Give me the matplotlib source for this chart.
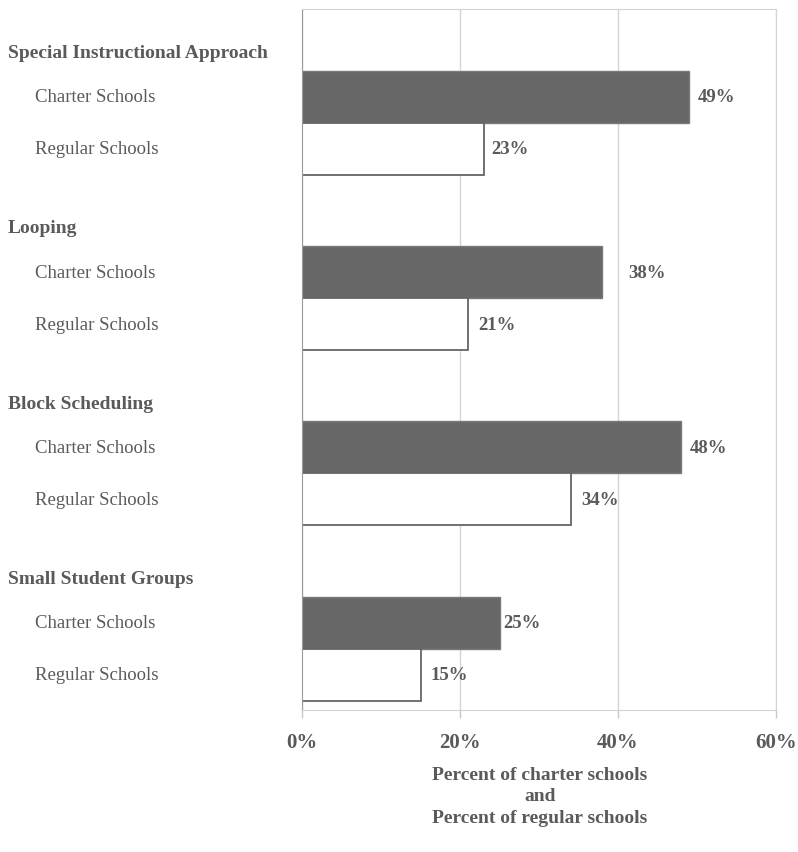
import matplotlib.pyplot as plt
from matplotlib.transforms import blended_transform_factory

# Survey results: share of schools using each practice
practices = ["Special Instructional Approach", "Looping", "Block Scheduling", "Small Student Groups"]
charter = [49, 38, 48, 25]
regular = [23, 21, 34, 15]
series_names = ["Charter Schools", "Regular Schools"]
xticks = [0, 20, 40, 60]

txt = "#5a5a5a"
plt.rcParams["font.family"] = ["Liberation Serif", "DejaVu Serif"]

fig = plt.figure(figsize=(7.98, 8.53), dpi=100)
ax = fig.add_axes([302 / 798, 1 - 711 / 853, 474 / 798, 701 / 853])

gap = 3.37  # distance between groups, in bar heights
ypos_c = [i * gap for i in range(len(practices))]
ypos_r = [y + 1 for y in ypos_c]

ax.barh(ypos_c, charter, height=1, color="#676767", edgecolor="#7a7a7a", linewidth=1)
ax.barh(ypos_r, regular, height=1, color="white", edgecolor="#666666", linewidth=1.3)

# value labels next to the bar ends
pad_c = [1.1, 3.3, 1.1, 0.5]
pad_r = [0.9, 1.3, 1.4, 1.3]
for y, v, p in zip(ypos_c, charter, pad_c):
    ax.text(v + p, y, f"{v}%", va="center", ha="left", fontsize=13.5,
            fontweight="bold", color=txt)
for y, v, p in zip(ypos_r, regular, pad_r):
    ax.text(v + p, y, f"{v}%", va="center", ha="left", fontsize=13.5,
            fontweight="bold", color=txt)

ax.set_xlim(0, 60)
ax.set_ylim(ypos_r[-1] + 0.68, ypos_c[0] - 1.69)
ax.set_xticks(xticks)
ax.set_xticklabels([f"{t}%" for t in xticks], fontsize=15, fontweight="bold", color=txt)
ax.set_yticks([])
ax.tick_params(axis="x", length=6, width=1, color="#c8c8c8", pad=10)
ax.grid(axis="x", color="#d4d4d4", linewidth=1)
ax.set_axisbelow(True)
for s in ["top", "right", "bottom"]:
    ax.spines[s].set_color("#d4d4d4")
ax.spines["left"].set_color("#9a9a9a")

# category headers and row names on the left
tr = blended_transform_factory(fig.transFigure, ax.transData)
for name, yc, yr in zip(practices, ypos_c, ypos_r):
    ax.text(8 / 798, yc - 0.85, name, transform=tr, ha="left", va="center",
            fontsize=14, fontweight="bold", color=txt)
    ax.text(35 / 798, yc, series_names[0], transform=tr, ha="left", va="center",
            fontsize=13.5, color=txt)
    ax.text(35 / 798, yr, series_names[1], transform=tr, ha="left", va="center",
            fontsize=13.5, color=txt)

fig.text(540 / 798, 1 - 797 / 853, "Percent of charter schools\nand\nPercent of regular schools",
         ha="center", va="center", fontsize=14, fontweight="bold", color=txt,
         linespacing=1.38)

fig.savefig("out.png", dpi=100)
